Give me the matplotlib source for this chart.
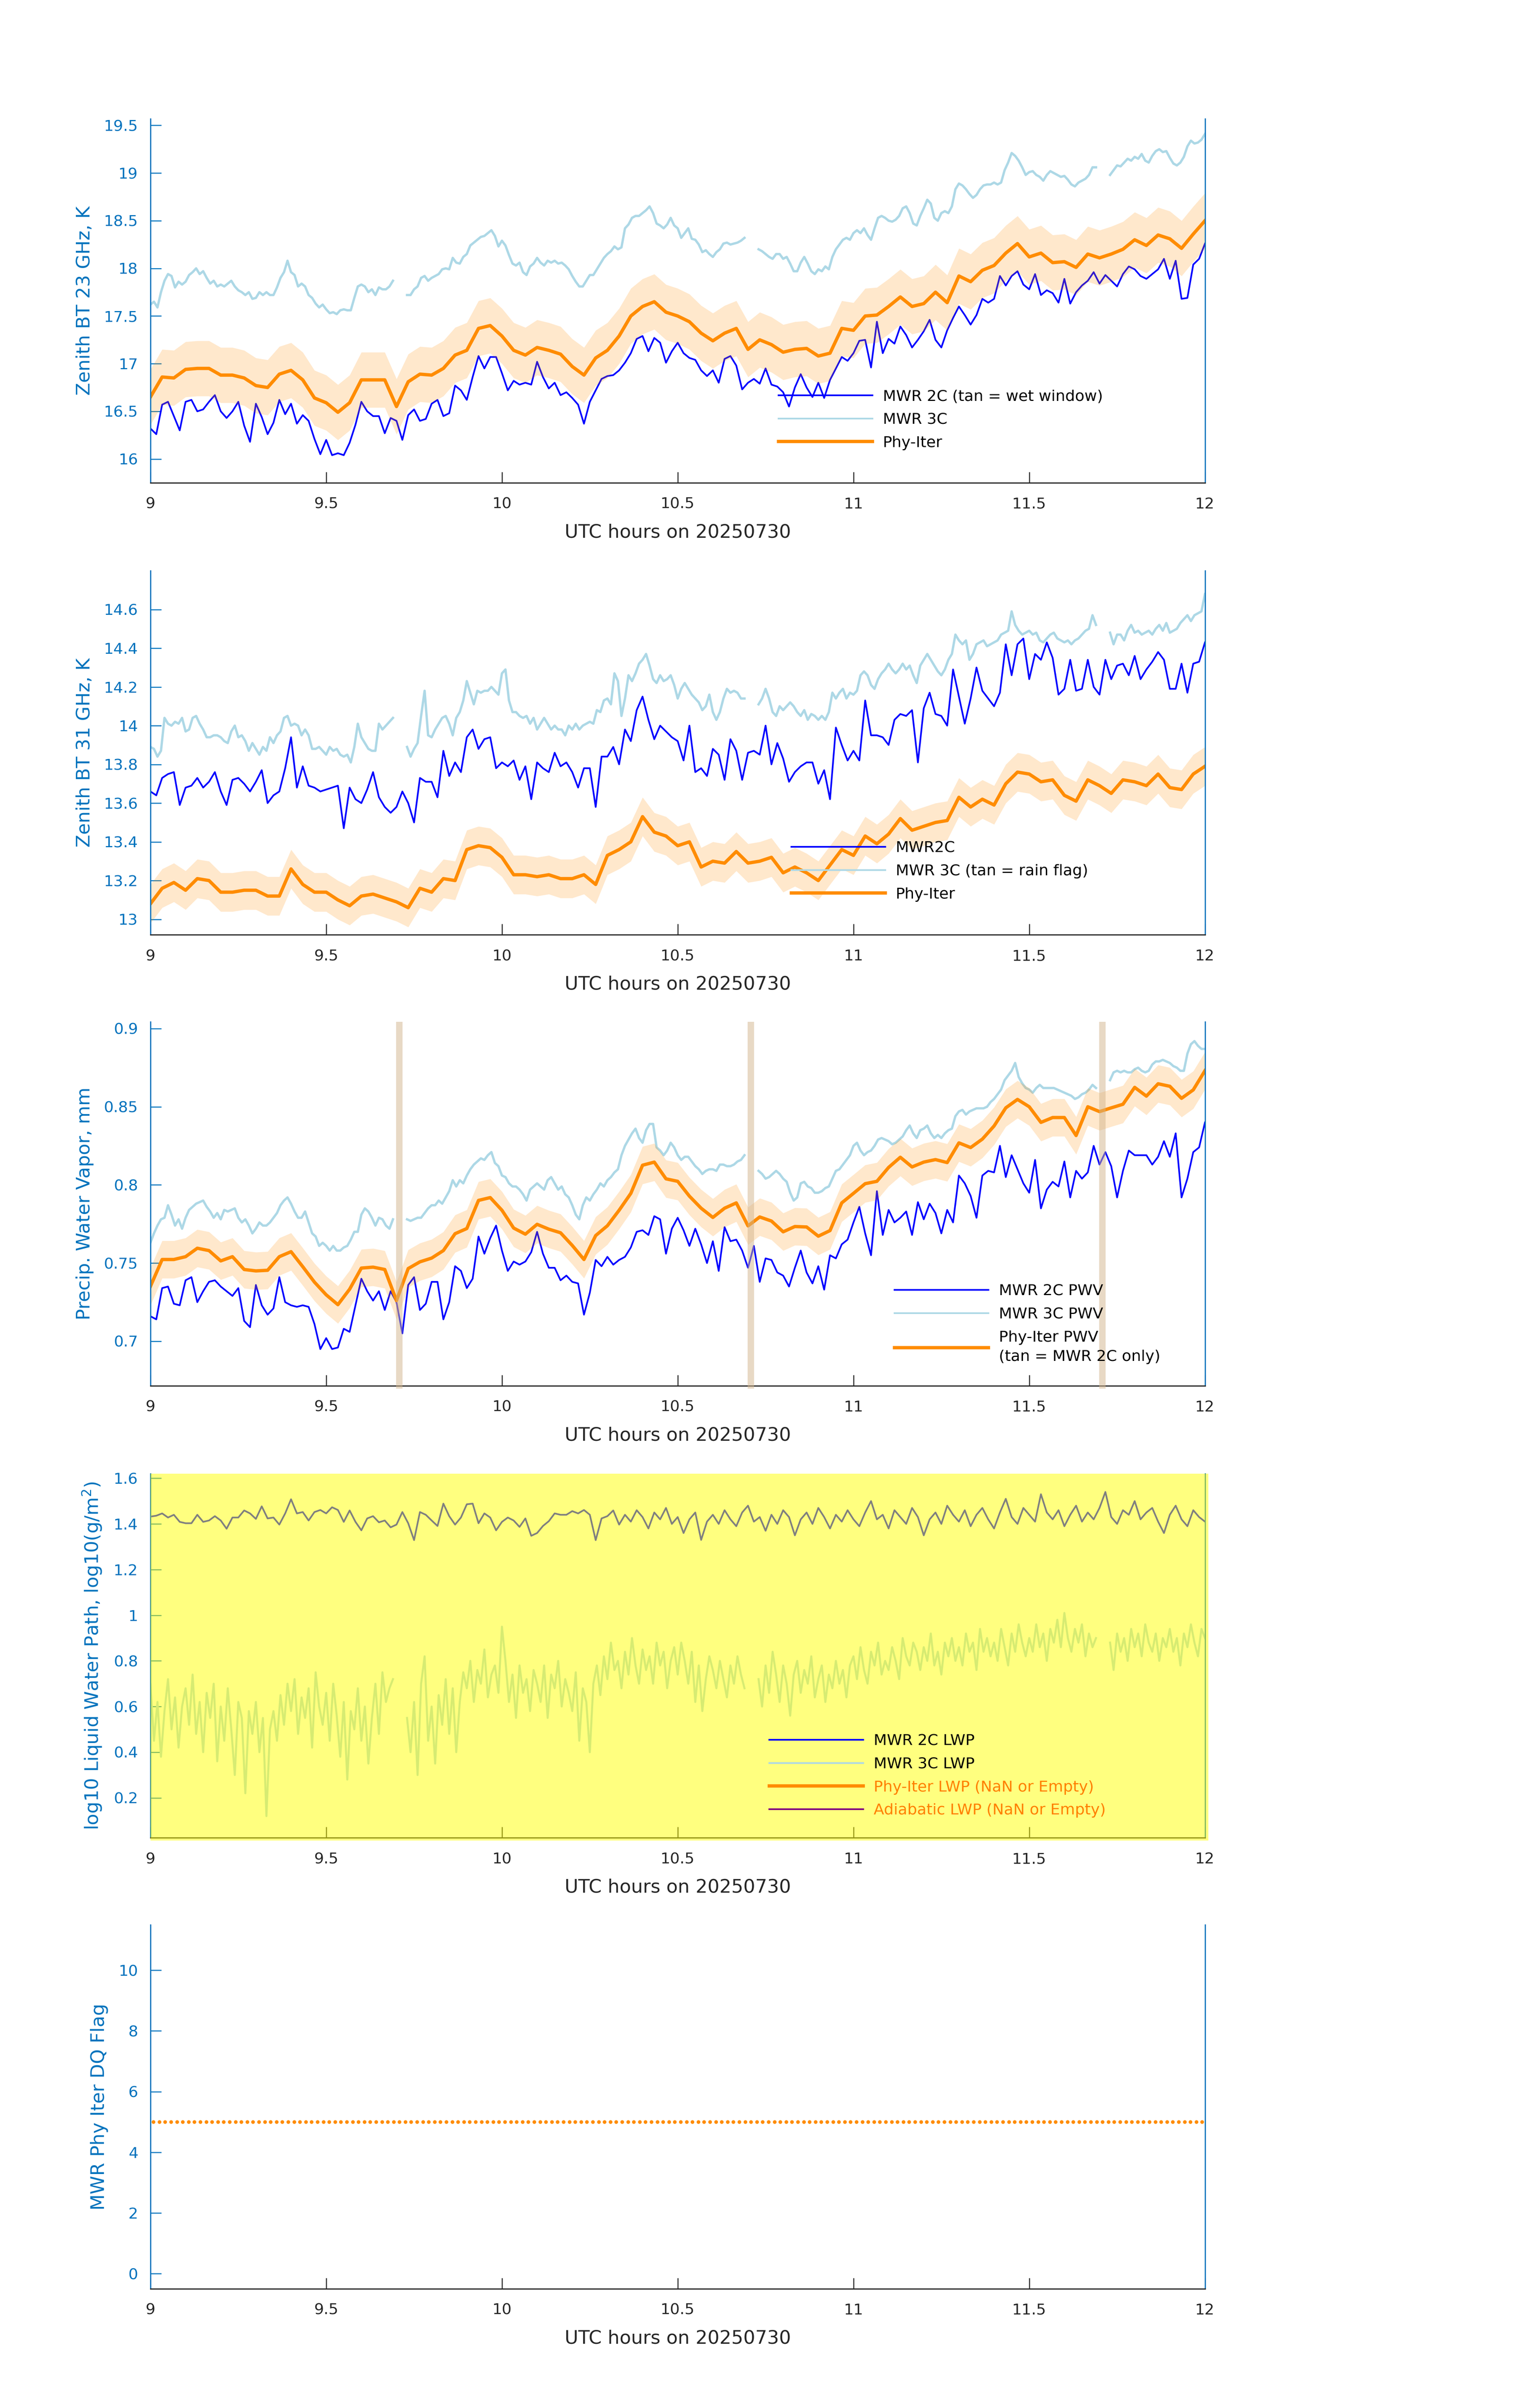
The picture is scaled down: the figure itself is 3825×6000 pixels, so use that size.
import numpy as np
import matplotlib
matplotlib.use('Agg')
import matplotlib.pyplot as plt
from matplotlib.lines import Line2D
from matplotlib.patches import Rectangle
from matplotlib.ticker import FuncFormatter

nan = np.nan

# ---------------- data ----------------
# 2C series: one value per minute from 9:00 to 12:00 UTC
# 3C series: one value per 0.01 h, gaps are NaN
# Phy-Iter: one value per 2 minutes

bt23_2c = [16.32,16.26,16.57,16.60,16.45,16.30,16.60,16.62,16.50,16.52,
           16.60,16.67,16.50,16.43,16.50,16.60,16.35,16.18,16.58,16.44,
           16.26,16.38,16.62,16.47,16.58,16.37,16.46,16.40,16.21,16.05,
           16.20,16.04,16.06,16.04,16.17,16.36,16.60,16.50,16.45,16.45,
           16.27,16.43,16.40,16.20,16.46,16.52,16.40,16.42,16.58,16.62,
           16.45,16.48,16.77,16.72,16.62,16.86,17.08,16.95,17.07,17.07,
           16.90,16.72,16.82,16.78,16.80,16.78,17.02,16.86,16.74,16.80,
           16.67,16.70,16.64,16.57,16.37,16.60,16.72,16.84,16.87,16.88,
           16.93,17.01,17.11,17.26,17.29,17.13,17.27,17.22,17.01,17.13,
           17.22,17.11,17.06,17.04,16.93,16.87,16.93,16.80,17.05,17.08,
           16.98,16.73,16.80,16.84,16.79,16.95,16.78,16.76,16.70,16.55,
           16.75,16.89,16.75,16.65,16.80,16.64,16.83,16.95,17.07,17.03,
           17.11,17.24,17.25,16.96,17.44,17.11,17.26,17.21,17.39,17.30,
           17.17,17.25,17.34,17.46,17.25,17.17,17.35,17.48,17.60,17.51,
           17.41,17.51,17.68,17.64,17.68,17.92,17.82,17.92,17.97,17.83,
           17.78,17.94,17.72,17.77,17.74,17.64,17.89,17.63,17.75,17.82,
           17.87,17.96,17.84,17.93,17.87,17.81,17.94,18.02,17.99,17.92,
           17.89,17.94,17.99,18.10,17.89,18.08,17.68,17.69,18.04,18.10,
           18.26]

bt23_3c = [17.62,17.65,17.59,17.75,17.87,17.94,17.92,17.80,17.86,17.83,
           17.86,17.93,17.96,18.00,17.94,17.97,17.90,17.84,17.87,17.81,
           17.83,17.81,17.84,17.87,17.81,17.77,17.75,17.72,17.75,17.68,
           17.69,17.75,17.72,17.75,17.72,17.72,17.80,17.90,17.96,18.08,
           17.96,17.93,17.81,17.84,17.81,17.72,17.69,17.63,17.59,17.62,
           17.57,17.53,17.54,17.52,17.56,17.57,17.56,17.56,17.69,17.81,
           17.83,17.81,17.75,17.78,17.72,17.80,17.78,17.78,17.81,17.87,
           nan,nan,nan,
           17.72,17.72,17.78,17.81,17.90,17.92,17.87,
           17.90,17.92,17.94,17.99,18.00,17.99,18.11,18.06,18.05,18.12,
           18.15,18.24,18.27,18.30,18.33,18.34,18.37,18.40,18.34,18.23,
           18.29,18.24,18.14,18.05,18.03,18.06,17.96,17.93,18.02,18.05,
           18.11,18.06,18.03,18.08,18.06,18.08,18.05,18.06,18.03,17.99,
           17.92,17.86,17.81,17.81,17.87,17.93,17.93,17.99,18.05,18.11,
           18.15,18.18,18.23,18.20,18.22,18.42,18.46,18.53,18.55,18.55,
           18.58,18.61,18.65,18.58,18.47,18.45,18.42,18.46,18.53,18.45,
           18.42,18.32,18.37,18.42,18.31,18.30,18.25,18.17,18.19,18.15,
           18.12,18.17,18.20,18.26,18.27,18.25,18.26,18.27,18.29,18.32,
           nan,nan,nan,
           18.20,18.18,18.15,18.12,18.10,18.15,18.15,
           18.10,18.12,18.05,17.97,17.97,18.06,18.12,18.05,17.97,17.94,
           17.99,17.97,18.02,17.99,18.12,18.20,18.25,18.30,18.32,18.30,
           18.37,18.40,18.37,18.42,18.35,18.30,18.42,18.53,18.55,18.53,
           18.50,18.49,18.51,18.55,18.63,18.65,18.58,18.47,18.45,18.55,
           18.63,18.72,18.68,18.53,18.50,18.58,18.60,18.58,18.65,18.83,
           18.89,18.87,18.83,18.78,18.74,18.77,18.83,18.87,18.88,18.88,
           18.90,18.88,18.90,19.03,19.11,19.21,19.18,19.13,19.06,18.98,
           19.01,19.02,18.98,18.96,18.92,18.98,19.02,19.00,18.98,18.96,
           18.97,18.93,18.88,18.86,18.90,18.92,18.94,18.98,19.06,19.06,
           nan,nan,nan,
           18.98,19.03,19.08,19.07,19.11,19.15,19.13,
           19.17,19.15,19.20,19.13,19.11,19.18,19.23,19.25,19.22,19.23,
           19.16,19.10,19.08,19.11,19.17,19.28,19.34,19.31,19.32,19.35,
           19.41]

bt23_phy = [16.65,16.86,16.85,16.94,16.95,16.95,16.88,16.88,16.85,16.77,
            16.75,16.89,16.93,16.83,16.64,16.59,16.49,16.59,16.83,16.83,
            16.83,16.55,16.81,16.89,16.88,16.95,17.09,17.14,17.37,17.40,
            17.29,17.14,17.09,17.17,17.14,17.10,16.97,16.88,17.06,17.14,
            17.29,17.50,17.60,17.65,17.54,17.50,17.44,17.32,17.24,17.32,
            17.37,17.15,17.25,17.20,17.12,17.15,17.16,17.08,17.11,17.37,
            17.35,17.50,17.51,17.60,17.70,17.60,17.63,17.75,17.64,17.92,
            17.86,17.98,18.03,18.16,18.26,18.12,18.16,18.06,18.07,18.01,
            18.15,18.11,18.15,18.20,18.30,18.24,18.35,18.31,18.21,18.36,
            18.50]
bt23_phy_unc = 0.29

bt31_2c = [13.66,13.64,13.73,13.75,13.76,13.59,13.68,13.69,13.73,13.68,
           13.71,13.76,13.66,13.59,13.72,13.73,13.70,13.66,13.71,13.77,
           13.60,13.64,13.66,13.78,13.94,13.68,13.79,13.69,13.68,13.66,
           13.67,13.68,13.69,13.47,13.68,13.62,13.60,13.67,13.76,13.63,
           13.58,13.55,13.58,13.66,13.60,13.50,13.73,13.71,13.71,13.63,
           13.87,13.74,13.81,13.76,13.94,13.98,13.88,13.93,13.94,13.78,
           13.81,13.79,13.82,13.72,13.79,13.62,13.81,13.78,13.76,13.86,
           13.79,13.81,13.76,13.68,13.78,13.78,13.58,13.84,13.84,13.89,
           13.80,13.98,13.92,14.08,14.15,14.03,13.93,14.00,13.97,13.94,
           13.92,13.82,14.00,13.76,13.78,13.74,13.88,13.85,13.72,13.93,
           13.87,13.72,13.86,13.87,13.85,14.00,13.80,13.91,13.83,13.71,
           13.76,13.79,13.81,13.81,13.70,13.77,13.62,13.99,13.90,13.82,
           13.87,13.82,14.13,13.95,13.95,13.94,13.90,14.03,14.06,14.05,
           14.08,13.81,14.09,14.17,14.06,14.05,14.00,14.29,14.15,14.01,
           14.14,14.30,14.18,14.14,14.10,14.17,14.42,14.26,14.42,14.45,
           14.24,14.37,14.34,14.43,14.35,14.16,14.19,14.34,14.18,14.19,
           14.34,14.20,14.16,14.34,14.24,14.31,14.32,14.26,14.36,14.24,
           14.29,14.33,14.38,14.34,14.19,14.19,14.32,14.17,14.32,14.33,
           14.43]

bt31_3c = [13.89,13.88,13.84,13.87,14.04,14.01,14.00,14.02,14.01,14.04,
           13.97,13.98,14.04,14.05,14.01,13.98,13.94,13.94,13.95,13.95,
           13.94,13.92,13.91,13.97,14.00,13.94,13.95,13.92,13.87,13.91,
           13.88,13.85,13.89,13.87,13.94,13.91,13.95,13.97,14.04,14.05,
           14.00,14.01,14.00,13.95,13.98,13.95,13.88,13.88,13.89,13.87,
           13.85,13.89,13.87,13.88,13.85,13.84,13.85,13.81,13.89,14.01,
           13.94,13.91,13.88,13.87,13.87,14.01,13.98,14.00,14.02,14.04,
           nan,nan,nan,
           13.89,13.84,13.88,13.91,14.05,14.18,13.95,
           13.94,13.98,14.01,14.04,14.05,14.01,13.95,14.04,14.07,14.13,
           14.23,14.17,14.11,14.18,14.17,14.18,14.18,14.20,14.18,14.16,
           14.27,14.29,14.13,14.07,14.07,14.05,14.04,14.05,14.01,14.04,
           13.98,14.01,14.04,14.01,13.98,14.00,13.98,13.98,13.95,14.00,
           13.98,14.01,13.98,14.00,14.01,14.02,14.01,14.08,14.07,14.13,
           14.14,14.11,14.27,14.23,14.05,14.14,14.26,14.23,14.27,14.32,
           14.34,14.37,14.31,14.24,14.22,14.26,14.23,14.24,14.26,14.21,
           14.14,14.19,14.22,14.19,14.16,14.14,14.12,14.08,14.10,14.16,
           14.07,14.03,14.07,14.14,14.19,14.17,14.18,14.17,14.14,14.14,
           nan,nan,nan,
           14.11,14.14,14.19,14.14,14.07,14.05,14.10,
           14.08,14.10,14.12,14.10,14.07,14.05,14.08,14.03,14.06,14.05,
           14.03,14.05,14.03,14.07,14.17,14.14,14.17,14.19,14.14,14.17,
           14.16,14.18,14.26,14.28,14.26,14.21,14.19,14.24,14.27,14.29,
           14.32,14.29,14.27,14.29,14.32,14.29,14.31,14.26,14.22,14.31,
           14.34,14.37,14.34,14.31,14.28,14.26,14.29,14.34,14.37,14.47,
           14.44,14.42,14.44,14.34,14.37,14.42,14.43,14.44,14.41,14.42,
           14.43,14.44,14.47,14.48,14.49,14.59,14.52,14.49,14.47,14.48,
           14.49,14.47,14.48,14.44,14.43,14.45,14.47,14.48,14.45,14.44,
           14.43,14.44,14.42,14.44,14.45,14.47,14.49,14.50,14.57,14.52,
           nan,nan,nan,
           14.48,14.42,14.47,14.47,14.44,14.49,14.52,
           14.48,14.49,14.47,14.48,14.49,14.47,14.50,14.52,14.49,14.53,
           14.48,14.49,14.50,14.53,14.55,14.57,14.54,14.57,14.58,14.59,
           14.68]

bt31_phy = [13.08,13.16,13.19,13.15,13.21,13.20,13.14,13.14,13.15,13.15,
            13.12,13.12,13.26,13.18,13.14,13.14,13.10,13.07,13.12,13.13,
            13.11,13.09,13.06,13.16,13.14,13.21,13.20,13.36,13.38,13.37,
            13.32,13.23,13.23,13.22,13.23,13.21,13.21,13.23,13.18,13.33,
            13.36,13.40,13.53,13.45,13.43,13.38,13.40,13.27,13.30,13.29,
            13.35,13.29,13.30,13.32,13.24,13.27,13.24,13.20,13.28,13.36,
            13.33,13.43,13.39,13.44,13.52,13.46,13.48,13.50,13.51,13.63,
            13.58,13.62,13.59,13.70,13.76,13.75,13.71,13.72,13.64,13.61,
            13.72,13.69,13.65,13.72,13.71,13.69,13.75,13.68,13.67,13.75,
            13.79]
bt31_phy_unc = 0.10

pwv_2c = [0.716,0.714,0.734,0.735,0.724,0.723,0.739,0.741,0.725,0.732,
          0.738,0.739,0.735,0.732,0.729,0.734,0.713,0.709,0.736,0.723,
          0.717,0.721,0.741,0.725,0.723,0.722,0.723,0.722,0.711,0.695,
          0.702,0.695,0.696,0.708,0.706,0.723,0.740,0.732,0.726,0.732,
          0.720,0.732,0.725,0.705,0.736,0.741,0.720,0.724,0.738,0.738,
          0.714,0.725,0.748,0.745,0.734,0.740,0.767,0.756,0.766,0.774,
          0.758,0.745,0.751,0.749,0.751,0.757,0.770,0.756,0.747,0.747,
          0.739,0.742,0.738,0.737,0.717,0.731,0.752,0.748,0.754,0.749,
          0.752,0.754,0.760,0.770,0.771,0.768,0.780,0.778,0.756,0.772,
          0.779,0.771,0.761,0.772,0.762,0.750,0.764,0.745,0.773,0.764,
          0.765,0.758,0.747,0.761,0.738,0.753,0.752,0.744,0.742,0.735,
          0.747,0.758,0.744,0.737,0.748,0.733,0.755,0.753,0.762,0.765,
          0.776,0.786,0.769,0.755,0.796,0.768,0.784,0.776,0.779,0.783,
          0.768,0.789,0.778,0.788,0.782,0.769,0.784,0.776,0.806,0.801,
          0.793,0.779,0.806,0.809,0.808,0.825,0.805,0.819,0.810,0.801,
          0.795,0.816,0.785,0.797,0.802,0.799,0.815,0.792,0.809,0.804,
          0.808,0.825,0.813,0.821,0.812,0.792,0.809,0.822,0.819,0.819,
          0.819,0.813,0.818,0.828,0.818,0.833,0.792,0.804,0.821,0.824,
          0.840]

pwv_3c = [0.763,0.769,0.774,0.778,0.779,0.787,0.781,0.774,0.778,0.772,
          0.779,0.784,0.786,0.788,0.789,0.790,0.786,0.783,0.779,0.782,
          0.778,0.784,0.783,0.784,0.785,0.779,0.776,0.778,0.774,0.769,
          0.772,0.776,0.774,0.774,0.776,0.779,0.782,0.787,0.790,0.792,
          0.788,0.783,0.779,0.779,0.783,0.776,0.769,0.767,0.761,0.763,
          0.761,0.758,0.761,0.758,0.758,0.760,0.761,0.765,0.770,0.770,
          0.781,0.785,0.783,0.779,0.774,0.779,0.778,0.774,0.772,0.778,
          nan,nan,nan,
          0.778,0.777,0.778,0.779,0.779,0.782,0.785,
          0.787,0.787,0.790,0.788,0.792,0.796,0.803,0.799,0.803,0.801,
          0.806,0.810,0.813,0.815,0.817,0.816,0.819,0.821,0.814,0.812,
          0.806,0.805,0.801,0.799,0.799,0.797,0.794,0.790,0.797,0.799,
          0.801,0.799,0.797,0.803,0.805,0.801,0.797,0.799,0.794,0.792,
          0.787,0.781,0.778,0.787,0.792,0.790,0.794,0.797,0.801,0.799,
          0.803,0.805,0.808,0.810,0.819,0.825,0.829,0.833,0.836,0.830,
          0.827,0.835,0.839,0.839,0.824,0.822,0.819,0.822,0.827,0.824,
          0.819,0.816,0.818,0.818,0.815,0.812,0.810,0.807,0.809,0.810,
          0.810,0.809,0.813,0.813,0.812,0.812,0.813,0.815,0.816,0.819,
          nan,nan,nan,
          0.809,0.807,0.804,0.805,0.807,0.809,0.807,
          0.804,0.802,0.795,0.790,0.792,0.801,0.802,0.799,0.798,0.795,
          0.795,0.796,0.798,0.799,0.804,0.809,0.810,0.813,0.816,0.819,
          0.825,0.827,0.822,0.819,0.821,0.822,0.825,0.829,0.830,0.829,
          0.828,0.826,0.827,0.829,0.831,0.835,0.838,0.833,0.830,0.835,
          0.836,0.838,0.833,0.830,0.832,0.830,0.833,0.835,0.836,0.844,
          0.847,0.848,0.845,0.847,0.848,0.849,0.849,0.849,0.850,0.853,
          0.855,0.858,0.861,0.867,0.870,0.873,0.878,0.869,0.865,0.862,
          0.861,0.859,0.862,0.864,0.862,0.862,0.862,0.862,0.861,0.860,
          0.859,0.858,0.857,0.855,0.856,0.858,0.859,0.861,0.864,0.862,
          nan,nan,nan,
          0.867,0.872,0.873,0.872,0.873,0.872,0.872,
          0.874,0.875,0.873,0.872,0.873,0.877,0.879,0.879,0.880,0.879,
          0.878,0.876,0.875,0.873,0.873,0.884,0.890,0.892,0.889,0.887,
          0.887]

pwv_phy = [0.7351,0.7523,0.7523,0.7541,0.7595,0.7580,0.7514,0.7541,0.7459,0.7450,
           0.7454,0.7541,0.7573,0.7477,0.7378,0.7297,0.7234,0.7333,0.7468,0.7474,
           0.7459,0.7260,0.7465,0.7508,0.7532,0.7580,0.7688,0.7721,0.7901,0.7919,
           0.7838,0.7724,0.7685,0.7748,0.7717,0.7694,0.7613,0.7523,0.7676,0.7739,
           0.7838,0.7946,0.8126,0.8146,0.8039,0.8023,0.7928,0.7851,0.7792,0.7851,
           0.7885,0.7738,0.7795,0.7769,0.7700,0.7734,0.7731,0.7672,0.7708,0.7885,
           0.7946,0.8008,0.8023,0.8112,0.8177,0.8115,0.8146,0.8162,0.8143,0.8269,
           0.8239,0.8293,0.8377,0.8493,0.8547,0.8500,0.8400,0.8431,0.8431,0.8316,
           0.8500,0.8469,0.8493,0.8516,0.8624,0.8568,0.8647,0.8631,0.8554,0.8608,
           0.8731]
pwv_phy_unc = 0.012

# MWR 2C only periods (tan bands on the PWV panel), hours UTC
tan_start = [9.699, 10.699, 11.699]
tan_end = [9.717, 10.717, 11.717]

lwp_2c = [1.432,1.436,1.446,1.428,1.440,1.409,1.403,1.403,1.440,1.409,
          1.415,1.434,1.415,1.379,1.428,1.428,1.459,1.446,1.422,1.477,
          1.424,1.428,1.397,1.446,1.508,1.446,1.452,1.415,1.452,1.461,
          1.446,1.473,1.461,1.409,1.459,1.409,1.372,1.424,1.434,1.407,
          1.415,1.385,1.397,1.452,1.403,1.329,1.452,1.440,1.415,1.391,
          1.489,1.434,1.397,1.428,1.486,1.489,1.403,1.446,1.428,1.372,
          1.409,1.428,1.415,1.387,1.424,1.348,1.360,1.391,1.412,1.446,
          1.440,1.440,1.456,1.446,1.461,1.440,1.329,1.424,1.434,1.459,
          1.397,
          1.44,1.41,1.46,1.43,1.38,1.45,1.42,1.47,1.40,1.43,
          1.36,1.42,1.45,1.33,1.41,1.44,1.40,1.46,1.42,1.39,
          1.45,1.48,1.41,1.43,1.37,1.44,1.40,1.46,1.43,1.35,
          1.42,1.45,1.40,1.47,1.43,1.38,1.44,1.41,1.46,1.42,
          1.39,1.45,1.50,1.42,1.44,1.38,1.46,1.43,1.40,1.47,
          1.43,1.35,1.42,1.45,1.40,1.48,1.44,1.41,1.46,1.39,
          1.44,1.47,1.42,1.38,1.45,1.51,1.43,1.40,1.47,1.44,
          1.41,1.53,1.45,1.42,1.46,1.39,1.44,1.48,1.41,1.45,
          1.42,1.47,1.54,1.43,1.40,1.46,1.44,1.50,1.42,1.45,
          1.47,1.41,1.36,1.44,1.48,1.42,1.39,1.46,1.43,1.41]

lwp_3c = [0.70,0.45,0.62,0.38,0.58,0.72,0.50,0.64,0.42,0.60,
          0.68,0.52,0.74,0.48,0.62,0.40,0.66,0.55,0.70,0.36,
          0.60,0.45,0.68,0.50,0.30,0.62,0.55,0.22,0.58,0.48,
          0.62,0.40,0.55,0.12,0.50,0.58,0.45,0.65,0.52,0.70,
          0.58,0.72,0.48,0.64,0.55,0.68,0.42,0.75,0.60,0.52,
          0.66,0.45,0.70,0.56,0.38,0.62,0.28,0.58,0.50,0.68,
          0.45,0.60,0.35,0.55,0.70,0.48,0.75,0.62,0.68,0.72,
          nan,nan,nan,
          0.55,0.40,0.62,0.30,0.70,0.82,0.45,
          0.60,0.35,0.65,0.52,0.72,0.48,0.68,0.40,0.62,0.75,
          0.68,0.80,0.62,0.76,0.70,0.85,0.64,0.74,0.78,0.66,
          0.95,0.80,0.62,0.74,0.55,0.78,0.66,0.72,0.58,0.76,
          0.70,0.62,0.78,0.55,0.74,0.68,0.80,0.60,0.72,0.66,
          0.58,0.75,0.45,0.68,0.62,0.40,0.70,0.78,0.65,0.82,
          0.72,0.88,0.76,0.80,0.68,0.84,0.74,0.90,0.78,0.70,
          0.85,0.76,0.82,0.70,0.88,0.78,0.84,0.68,0.80,0.86,
          0.74,0.88,0.80,0.70,0.84,0.62,0.78,0.58,0.72,0.82,
          0.76,0.68,0.80,0.72,0.64,0.78,0.70,0.82,0.74,0.68,
          nan,nan,nan,
          0.72,0.60,0.78,0.66,0.84,0.74,0.62,
          0.78,0.70,0.56,0.74,0.80,0.66,0.76,0.70,0.82,0.64,
          0.72,0.78,0.62,0.74,0.68,0.80,0.70,0.76,0.64,0.78,
          0.82,0.72,0.86,0.76,0.70,0.84,0.78,0.88,0.74,0.80,
          0.76,0.86,0.80,0.72,0.90,0.82,0.78,0.88,0.84,0.76,
          0.86,0.80,0.92,0.78,0.84,0.74,0.88,0.82,0.90,0.80,
          0.86,0.78,0.92,0.84,0.88,0.76,0.94,0.84,0.90,0.82,
          0.88,0.80,0.94,0.86,0.78,0.92,0.84,0.96,0.88,0.82,
          0.90,0.84,0.96,0.86,0.92,0.80,0.94,0.88,0.98,0.86,
          1.01,0.90,0.84,0.94,0.88,0.96,0.82,0.92,0.86,0.90,
          nan,nan,nan,
          0.88,0.76,0.92,0.84,0.90,0.80,0.94,
          0.86,0.92,0.82,0.96,0.88,0.84,0.92,0.80,0.90,0.86,
          0.94,0.84,0.90,0.78,0.92,0.86,0.96,0.88,0.82,0.94,
          0.90]

dq_flag = [5] * 180

# ---------------- style ----------------
BLUE_AX = (0.0, 0.447, 0.741)
DARK = (0.15, 0.15, 0.15)
C2C = (0.0, 0.0, 1.0)
C3C = (0.678, 0.847, 0.902)
CPHY = (1.0, 0.549, 0.0)
CADI = (0.5, 0.0, 0.5)
TAN = (0.824, 0.706, 0.549)
FS_TICK = 9.2
FS_LAB = 11.2


def times(vals, step_h, offset=0.0):
    return 9.0 + offset + np.arange(len(vals)) * step_h


def fmt(v, pos):
    return '%g' % round(v, 6)


def style(ax, ylim, yticks, ylabel):
    ax.set_xlim(9, 12)
    ax.set_ylim(*ylim)
    ax.set_xticks([9, 9.5, 10, 10.5, 11, 11.5, 12])
    ax.set_yticks(yticks)
    ax.xaxis.set_major_formatter(FuncFormatter(fmt))
    ax.yaxis.set_major_formatter(FuncFormatter(fmt))
    ax.spines['top'].set_visible(False)
    for s in ('left', 'right'):
        ax.spines[s].set_color(BLUE_AX)
        ax.spines[s].set_linewidth(0.7)
    ax.spines['bottom'].set_color(DARK)
    ax.spines['bottom'].set_linewidth(0.7)
    ax.tick_params(axis='y', colors=BLUE_AX, direction='in', length=6.5,
                   width=0.6, labelsize=FS_TICK, pad=7.4, right=False)
    ax.tick_params(axis='x', colors=DARK, direction='in', length=6.5,
                   width=0.6, labelsize=FS_TICK, pad=8.6, top=False)
    ax.set_ylabel(ylabel, color=BLUE_AX, fontsize=FS_LAB, labelpad=6)
    ax.set_xlabel('UTC hours on 20250730', color=DARK, fontsize=FS_LAB,
                  labelpad=7)


def add_legend(ax, labels, colors, widths, x, y, label_colors=None):
    handles = [Line2D([], [], color=c, lw=w) for c, w in zip(colors, widths)]
    leg = ax.legend(handles, labels, loc='center left', bbox_to_anchor=(x, y),
                    frameon=False, fontsize=FS_TICK, borderpad=0,
                    borderaxespad=0, handlelength=6.1, handletextpad=0.68,
                    labelspacing=0.56)
    if label_colors:
        for t, c in zip(leg.get_texts(), label_colors):
            t.set_color(c)
    leg.set_zorder(6)
    return leg


fig = plt.figure(figsize=(12.75, 20), dpi=300)
left, width, height = 0.098, 0.687, 0.1512
bottoms = [0.7995, 0.6118, 0.4245, 0.2368, 0.0495]
axes = [fig.add_axes([left, b, width, height]) for b in bottoms]

# ---- panel 1: 23 GHz ----
ax = axes[0]
ax.plot(times(bt23_3c, 0.01), bt23_3c, color=C3C, lw=1.4, zorder=2)
ax.plot(times(bt23_2c, 1 / 60), bt23_2c, color=C2C, lw=1.0, zorder=2.1)
tp = times(bt23_phy, 1 / 30)
yp = np.array(bt23_phy)
ax.fill_between(tp, yp - bt23_phy_unc, yp + bt23_phy_unc, color=CPHY,
                alpha=0.2, lw=0, zorder=2.2)
ax.plot(tp, yp, color=CPHY, lw=2.0, zorder=2.3)
style(ax, (15.75, 19.57), [16, 16.5, 17, 17.5, 18, 18.5, 19, 19.5],
      'Zenith BT 23 GHz, K')
add_legend(ax, ['MWR 2C (tan = wet window)', 'MWR 3C', 'Phy-Iter'],
           [C2C, C3C, CPHY], [1.0, 1.0, 2.0], 0.5955, 0.173)

# ---- panel 2: 31 GHz ----
ax = axes[1]
ax.plot(times(bt31_3c, 0.01), bt31_3c, color=C3C, lw=1.4, zorder=2)
ax.plot(times(bt31_2c, 1 / 60), bt31_2c, color=C2C, lw=1.0, zorder=2.1)
tp = times(bt31_phy, 1 / 30)
yp = np.array(bt31_phy)
ax.fill_between(tp, yp - bt31_phy_unc, yp + bt31_phy_unc, color=CPHY,
                alpha=0.2, lw=0, zorder=2.2)
ax.plot(tp, yp, color=CPHY, lw=2.0, zorder=2.3)
style(ax, (12.92, 14.8), [13, 13.2, 13.4, 13.6, 13.8, 14, 14.2, 14.4, 14.6],
      'Zenith BT 31 GHz, K')
add_legend(ax, ['MWR2C', 'MWR 3C (tan = rain flag)', 'Phy-Iter'],
           [C2C, C3C, CPHY], [1.0, 1.0, 2.0], 0.6077, 0.174)

# ---- panel 3: PWV ----
ax = axes[2]
ax.plot(times(pwv_3c, 0.01), pwv_3c, color=C3C, lw=1.4, zorder=2)
ax.plot(times(pwv_2c, 1 / 60), pwv_2c, color=C2C, lw=1.0, zorder=2.1)
tp = times(pwv_phy, 1 / 30)
yp = np.array(pwv_phy)
ax.fill_between(tp, yp - pwv_phy_unc, yp + pwv_phy_unc, color=CPHY,
                alpha=0.2, lw=0, zorder=2.2)
ax.plot(tp, yp, color=CPHY, lw=2.0, zorder=2.3)
for a, b in zip(tan_start, tan_end):
    ax.axvspan(a, b, ymin=-0.008, ymax=1.0, color=TAN, alpha=0.5, lw=0,
               zorder=4, clip_on=False)
style(ax, (0.6715, 0.9044), [0.7, 0.75, 0.8, 0.85, 0.9],
      'Precip. Water Vapor, mm')
leg = add_legend(ax, ['MWR 2C PWV', 'MWR 3C PWV',
                      'Phy-Iter PWV\n(tan = MWR 2C only)'],
                 [C2C, C3C, CPHY], [1.0, 1.0, 2.0], 0.7055, 0.169)
leg.get_texts()[2].set_linespacing(1.45)

# ---- panel 4: LWP ----
ax = axes[3]
ax.plot(times(lwp_3c, 0.01), lwp_3c, color=C3C, lw=1.2, zorder=2)
ax.plot(times(lwp_2c, 1 / 60), lwp_2c, color=C2C, lw=1.0, zorder=2.1)
style(ax, (0.025, 1.62), [0.2, 0.4, 0.6, 0.8, 1, 1.2, 1.4, 1.6],
      'log10 Liquid Water Path, log10(g/m$^2$)')
ax.add_patch(Rectangle((0.0, -0.008), 1.003, 1.008, transform=ax.transAxes,
                       facecolor=(1, 1, 0), alpha=0.5, lw=0, zorder=3,
                       clip_on=False))
ORANGE_TXT = (1.0, 0.5, 0.0)
add_legend(ax, ['MWR 2C LWP', 'MWR 3C LWP', 'Phy-Iter LWP (NaN or Empty)',
                'Adiabatic LWP (NaN or Empty)'],
           [C2C, C3C, CPHY, CADI], [1.0, 1.0, 2.0, 1.0], 0.5868, 0.170,
           label_colors=['black', 'black', ORANGE_TXT, ORANGE_TXT])

# ---- panel 5: DQ flag ----
ax = axes[4]
ax.plot(times(dq_flag, 1 / 60, offset=0.5 / 60), dq_flag, linestyle='none',
        marker='o', ms=2.2, mew=0, color=CPHY)
style(ax, (-0.5, 11.5), [0, 2, 4, 6, 8, 10], 'MWR Phy Iter DQ Flag')

fig.savefig('out.png', dpi=300)
